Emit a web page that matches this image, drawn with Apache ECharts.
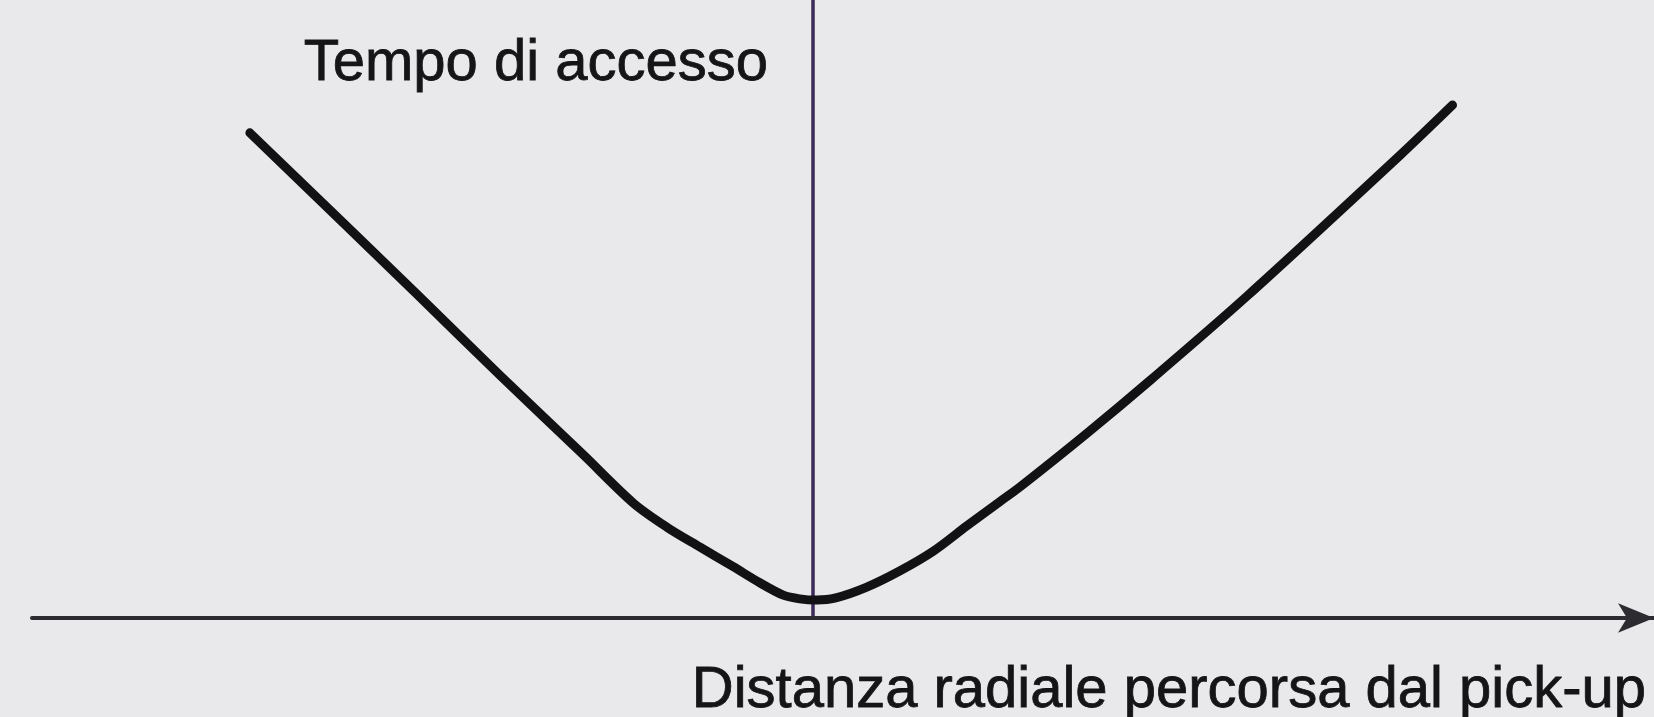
<!DOCTYPE html>
<html>
<head>
<meta charset="utf-8">
<script src="https://cdn.jsdelivr.net/npm/echarts@6/dist/echarts.min.js"></script>
<style>
  html, body { margin: 0; padding: 0; background: #e9e9eb; }
  #chart { width: 1654px; height: 717px; }
</style>
</head>
<body>
<div id="chart"></div>
<script>
// radial distance travelled by the pick-up (arbitrary units, 0 = current track)
const distance = [-72.1, -50.7, -40.1, -29.4, -23.0, -18.7, -14.5, -10.2, -6.8, -3.8, -1.7, 0.5, 2.8, 6.9, 11.1, 15.4, 19.7, 23.9, 26.5, 35.1, 43.5, 55.6, 75.2, 81.9];
// access time (arbitrary units)
const accessTime = [78.5, 52.4, 39.3, 26.4, 18.6, 14.7, 11.5, 8.3, 5.7, 3.7, 3.1, 2.9, 3.2, 5.0, 7.6, 10.8, 14.9, 18.8, 21.2, 29.9, 38.8, 52.1, 74.9, 83.0];

const xLabel = 'Distanza radiale percorsa dal pick-up';
const yLabel = 'Tempo di accesso';

const chartDom = document.getElementById('chart');
const myChart = echarts.init(chartDom);

const textStyle = {
    fontFamily: 'Liberation Sans',
    fontSize: 58,
    color: '#151518',
    textBorderColor: '#151518',
    textBorderWidth: 0.8,
};

const option = {
    backgroundColor: '#e9e9eb',
    animation: false,
    grid: {
        left: 32,
        right: 0,
        top: 0,
        bottom: 99,
        containLabel: false,
        outerBoundsMode: 'none',
    },
    xAxis: {
        type: 'value',
        min: -100,
        max: 107.7,
        name: xLabel,
        nameLocation: 'end',
        nameGap: -8,
        nameTextStyle: {
            ...textStyle,
            align: 'right',
            verticalAlign: 'top',
            padding: [44, 0, 0, 0],
        },
        axisLine: {
            show: true,
            symbol: ['none', 'arrow'],
            symbolSize: [22, 36],
            lineStyle: { color: '#2b2b30', width: 4 },
        },
        axisTick: { show: false },
        axisLabel: { show: false },
        splitLine: { show: false },
    },
    yAxis: {
        type: 'value',
        min: 0,
        max: 100,
        name: yLabel,
        nameLocation: 'end',
        nameGap: -64,
        nameTextStyle: {
            ...textStyle,
            align: 'right',
            verticalAlign: 'middle',
            padding: [0, 45, 0, 0],
        },
        axisLine: {
            show: true,
            onZero: true,
            lineStyle: { color: '#3c2a58', width: 3.5 },
        },
        axisTick: { show: false },
        axisLabel: { show: false },
        splitLine: { show: false },
    },
    series: [
        {
            type: 'line',
            data: distance.map((d, i) => [d, accessTime[i]]),
            smooth: 0.3,
            symbol: 'none',
            lineStyle: { color: '#121214', width: 9, cap: 'round', join: 'round' },
        },
    ],
};

myChart.setOption(option);
</script>
</body>
</html>
